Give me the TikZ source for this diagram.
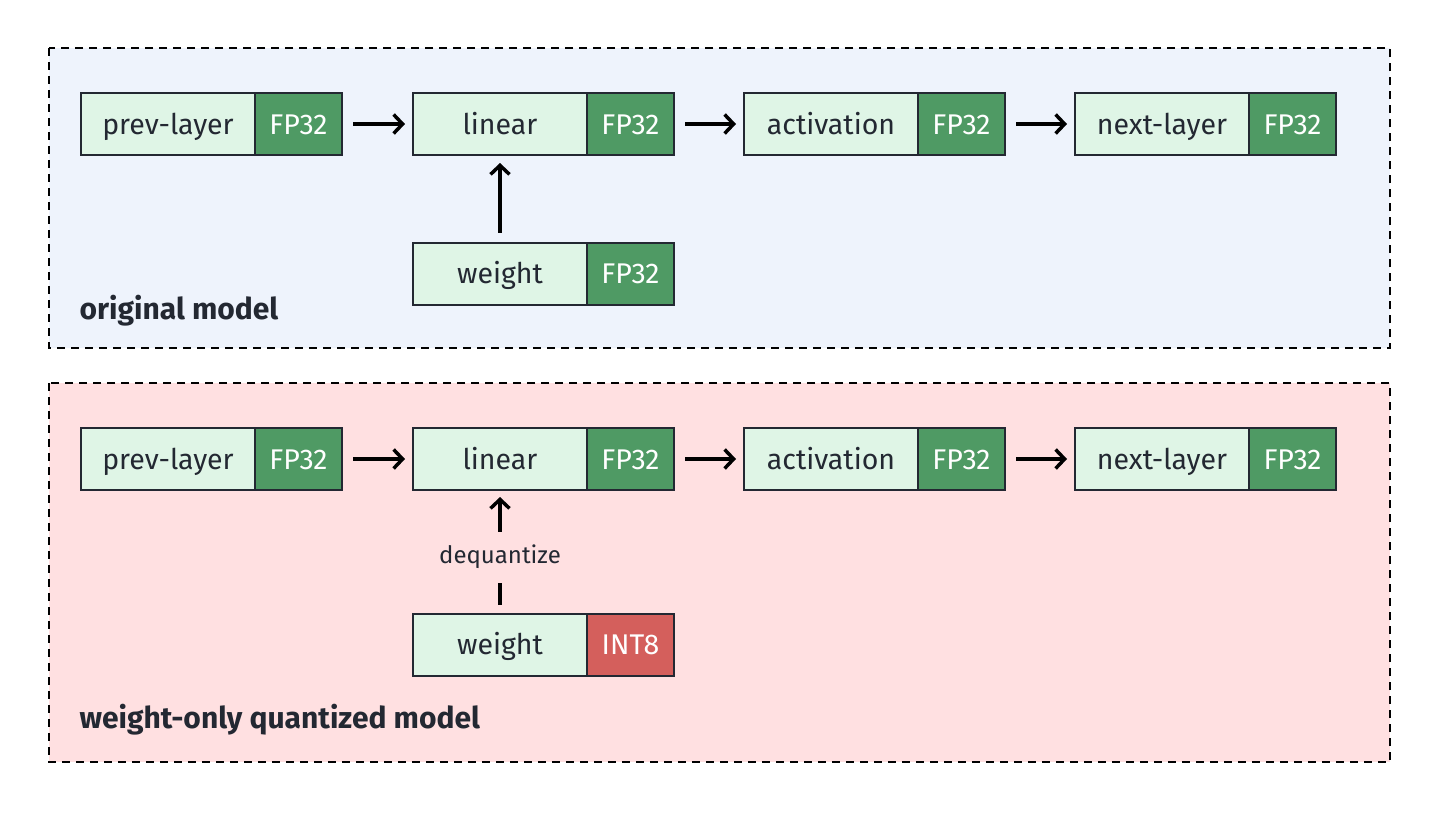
\documentclass[tikz,border=0pt]{standalone}
\usepackage{fontspec}
\setmainfont{Fira Sans}
\usetikzlibrary{arrows.meta}
\definecolor{txt}{HTML}{232832}
\definecolor{lgreen}{HTML}{DFF5E6}
\definecolor{dgreen}{HTML}{4F9A64}
\definecolor{ired}{HTML}{D45F5C}
\definecolor{bluebg}{HTML}{EEF3FC}
\definecolor{redbg}{HTML}{FFE0E1}
\begin{document}
\begin{tikzpicture}[x=1pt,y=-1pt,
  panel/.style={draw=black, line width=1.5pt, dash pattern=on 8pt off 6pt},
  namebox/.style={draw=txt, fill=lgreen, line width=2pt, minimum width=174pt, minimum height=62pt, inner sep=0pt, text=txt, font=\fontsize{28.5}{32}\selectfont, text height=21pt, text depth=1pt},
  tagbox/.style={namebox, fill=dgreen, minimum width=87pt, text=white},
  redtag/.style={tagbox, fill=ired},
  arr/.style={-{Straight Barb[length=9pt,width=19pt,line width=3.5pt]}, line width=3.5pt, black},
  plain/.style={line width=3.5pt, black},
  title/.style={anchor=base west, text=txt, font=\bfseries\fontsize{30}{33}\selectfont},
]
\useasboundingbox (0,0) rectangle (1440,812);
% panels
\draw[panel, fill=bluebg] (49,48) rectangle (1390,348);
\draw[panel, fill=redbg] (49,383) rectangle (1390,762);
% top row
\node[namebox] (pl1) at (168,124) {prev-layer};
\node[tagbox] (plt1) at (298.5,124) {FP32};
\node[namebox] (ln1) at (500,124) {linear};
\node[tagbox] (lnt1) at (630.5,124) {FP32};
\node[namebox] (ac1) at (831,124) {activation};
\node[tagbox] (act1) at (961.5,124) {FP32};
\node[namebox] (nl1) at (1162,124) {next-layer};
\node[tagbox] (nlt1) at (1292.5,124) {FP32};
\node[namebox] (w1) at (500,273.5) {weight};
\node[tagbox] (wt1) at (630.5,273.5) {FP32};
\draw[arr, shorten <=10pt, shorten >=7pt] (plt1.east) -- (ln1.west);
\draw[arr, shorten <=10pt, shorten >=7pt] (lnt1.east) -- (ac1.west);
\draw[arr, shorten <=10pt, shorten >=7pt] (act1.east) -- (nl1.west);
\draw[arr, shorten <=9pt, shorten >=7pt] (w1.north) -- (ln1.south);
\node[title] (t1) at (76,319) {original model};
% bottom row
\node[namebox] (pl2) at (168,459) {prev-layer};
\node[tagbox] (plt2) at (298.5,459) {FP32};
\node[namebox] (ln2) at (500,459) {linear};
\node[tagbox] (lnt2) at (630.5,459) {FP32};
\node[namebox] (ac2) at (831,459) {activation};
\node[tagbox] (act2) at (961.5,459) {FP32};
\node[namebox] (nl2) at (1162,459) {next-layer};
\node[tagbox] (nlt2) at (1292.5,459) {FP32};
\node[namebox] (w2) at (500,644.5) {weight};
\node[redtag] (wt2) at (630.5,644.5) {INT8};
\draw[arr, shorten <=10pt, shorten >=7pt] (plt2.east) -- (ln2.west);
\draw[arr, shorten <=10pt, shorten >=7pt] (lnt2.east) -- (ac2.west);
\draw[arr, shorten <=10pt, shorten >=7pt] (act2.east) -- (nl2.west);
\node[text=txt, font=\fontsize{24}{28}\selectfont, inner sep=0pt, text height=17pt, text depth=5pt, minimum height=53pt] (dq) at (500,557.5) {dequantize};
\draw[arr, shorten <=-1pt, shorten >=6pt] (dq.north) -- (ln2.south);
\draw[plain, shorten <=8pt, shorten >=-1pt] (w2.north) -- (dq.south);
\node[title] (t2) at (76,728) {weight-only quantized model};
\end{tikzpicture}
\end{document}
